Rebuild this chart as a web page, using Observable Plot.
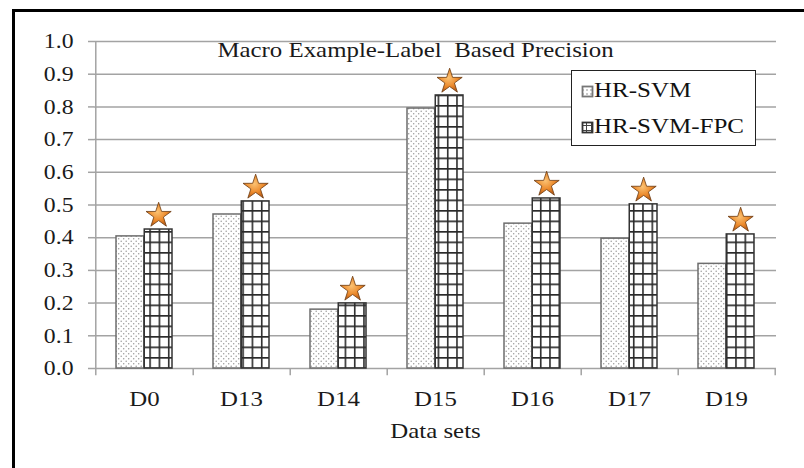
<!DOCTYPE html>
<html>
<head>
<meta charset="utf-8">
<script src="https://cdn.jsdelivr.net/npm/d3@7"></script>
<script src="https://cdn.jsdelivr.net/npm/@observablehq/plot@0.6"></script>
<style>
  html, body { margin: 0; padding: 0; background: #fff; }
  #wrap { position: relative; width: 804px; height: 468px; overflow: hidden; }
  #border { position: absolute; left: 12px; top: 9px; width: 900px; height: 600px; border-left: 3px solid #000; border-top: 3px solid #000; pointer-events: none; }
  #legend { position: absolute; left: 571px; top: 70px; width: 183px; height: 74px; border: 1px solid #222; background: #fff; font-family: "Liberation Serif", serif; font-size: 21px; color: #111; }
  #legend .row { position: absolute; left: 9px; display: flex; align-items: center; }
  #legend .row span { display: inline-block; transform: scaleX(1.19); transform-origin: left center; }
</style>
</head>
<body>
<div id="wrap">
  <div id="chart"></div>
  <div id="border"></div>
  <div id="legend"></div>
</div>
<script>
const datasets = ["D0", "D13", "D14", "D15", "D16", "D17", "D19"];
const seriesNames = ["HR-SVM", "HR-SVM-FPC"];
const hrSvm = [0.404, 0.471, 0.180, 0.795, 0.443, 0.397, 0.320];
const hrSvmFpc = [0.425, 0.511, 0.199, 0.835, 0.520, 0.502, 0.410];
const yTicks = [0, 0.1, 0.2, 0.3, 0.4, 0.5, 0.6, 0.7, 0.8, 0.9, 1.0];
const titleText = "Macro Example-Label  Based Precision";
const xLabel = "Data sets";

const W = 804, H = 468, ML = 94, MR = 28, MT = 41, MB = 100;
const step = (W - ML - MR) / datasets.length;
const padIn = 0.42;
const bw = step * (1 - padIn);

const rows = datasets.map((d, i) => ({d, a: hrSvm[i], b: hrSvmFpc[i]}));

const defs = () => {
  const g = d3.create("svg:defs");
  const p1 = g.append("pattern").attr("id", "dots").attr("patternUnits", "userSpaceOnUse")
    .attr("width", 5).attr("height", 5);
  p1.append("rect").attr("width", 5).attr("height", 5).attr("fill", "#fff");
  p1.append("circle").attr("cx", 1.2).attr("cy", 1.2).attr("r", 0.75).attr("fill", "#9a9a9a");
  p1.append("circle").attr("cx", 3.7).attr("cy", 3.7).attr("r", 0.75).attr("fill", "#9a9a9a");
  const p2 = g.append("pattern").attr("id", "grid").attr("patternUnits", "userSpaceOnUse")
    .attr("width", 9.3).attr("height", 10.5).attr("x", 0.5);
  p2.append("rect").attr("width", 9.3).attr("height", 10.5).attr("fill", "#fff");
  p2.append("path").attr("d", "M0.8,0V10.5M0,0.8H9.3").attr("stroke", "#2a2a2a").attr("stroke-width", 1.6);
  const rg = g.append("radialGradient").attr("id", "starg").attr("cx", "45%").attr("cy", "40%").attr("r", "60%");
  rg.append("stop").attr("offset", "0%").attr("stop-color", "#fbc273");
  rg.append("stop").attr("offset", "60%").attr("stop-color", "#ec8a2c");
  rg.append("stop").attr("offset", "100%").attr("stop-color", "#b85a14");
  return g.node();
};

const chart = Plot.plot({
  width: W, height: H,
  marginLeft: ML, marginRight: MR, marginTop: MT, marginBottom: MB,
  style: {fontFamily: "'Liberation Serif', serif", background: "transparent", color: "#111"},
  x: {domain: datasets, paddingInner: padIn, paddingOuter: padIn / 2, label: null},
  y: {domain: [0, 1], label: null},
  marks: [
    defs,
    Plot.ruleY(yTicks, {y: d => d, stroke: "#a3a3a3", strokeWidth: 1.5, strokeOpacity: 1}),
    Plot.axisY({ticks: yTicks, tickFormat: () => "", tickSize: 6, color: "#a3a3a3", strokeWidth: 1.5, strokeOpacity: 1}),
    Plot.axisY({ticks: yTicks, tickFormat: d3.format(".1f"), tickSize: 0, tickPadding: 21, fontSize: 21, fill: "#1a1a1a"}),
    Plot.axisX({tickSize: 0, tickPadding: 22, fontSize: 22, fill: "#1a1a1a", label: null}),
    Plot.text([xLabel], {frameAnchor: "bottom", dy: 69, fontSize: 22, fill: "#1a1a1a"}),
    Plot.ruleX([datasets[0]], {x: d => d, dx: -step / 2, y1: -0.022, y2: 1, stroke: "#a3a3a3", strokeWidth: 1.5}),
    Plot.ruleX(datasets, {x: d => d, dx: step / 2, y1: -0.022, y2: 0, stroke: "#a3a3a3", strokeWidth: 1.5}),
    Plot.barY(rows, {x: "d", y: "a", insetRight: bw / 2, fill: "url(#dots)", stroke: "#6e6e6e", strokeWidth: 1.5}),
    Plot.barY(rows, {x: "d", y: "b", insetLeft: bw / 2, fill: "url(#grid)", stroke: "#333", strokeWidth: 1.5}),
    Plot.dot(rows, {x: "d", y: "b", dx: bw / 4, dy: -14, symbol: "star", r: 7.9, fill: "url(#starg)", stroke: "#6b3a10", strokeWidth: 0.8}),
    Plot.text([titleText], {frameAnchor: "top", dx: -20, dy: 0, lineAnchor: "top", fontSize: 22, fill: "#1a1a1a"})
  ]
});
document.getElementById("chart").appendChild(chart);

// widen glyphs horizontally like the reference, scaling each label about its anchor
chart.querySelectorAll("text").forEach(t => {
  if (!t.textContent.trim()) return;
  const sx = 1.13;
  const tr = t.getAttribute("transform");
  if (tr) {
    t.setAttribute("transform", tr + ` scale(${sx},1)`);
  } else {
    const x = +(t.getAttribute("x") || 0), y = +(t.getAttribute("y") || 0);
    t.setAttribute("x", 0); t.setAttribute("y", 0);
    t.setAttribute("transform", `translate(${x},${y}) scale(${sx},1)`);
    t.querySelectorAll("tspan[x]").forEach(s => s.setAttribute("x", 0));
  }
});

const legend = document.getElementById("legend");
const swatchStroke = ["#777", "#333"];
seriesNames.forEach((name, i) => {
  const row = document.createElement("div");
  row.className = "row";
  row.style.top = (i === 0 ? 7 : 43) + "px";
  row.innerHTML = `<svg width="13" height="14"><defs>${i === 0
    ? '<pattern id="ld" patternUnits="userSpaceOnUse" width="4" height="4"><rect width="4" height="4" fill="#fff"/><circle cx="2" cy="2" r="0.8" fill="#888"/></pattern>'
    : '<pattern id="lg" patternUnits="userSpaceOnUse" width="5" height="5"><rect width="5" height="5" fill="#fff"/><path d="M0.5,0V5M0,0.5H5" stroke="#444" stroke-width="1"/></pattern>'}</defs>
    <rect x="1.5" y="2.5" width="10" height="10" fill="url(#${i === 0 ? 'ld' : 'lg'})" stroke="${swatchStroke[i]}" stroke-width="1.8"/></svg><span>${name}</span>`;
  legend.appendChild(row);
});
</script>
</body>
</html>
